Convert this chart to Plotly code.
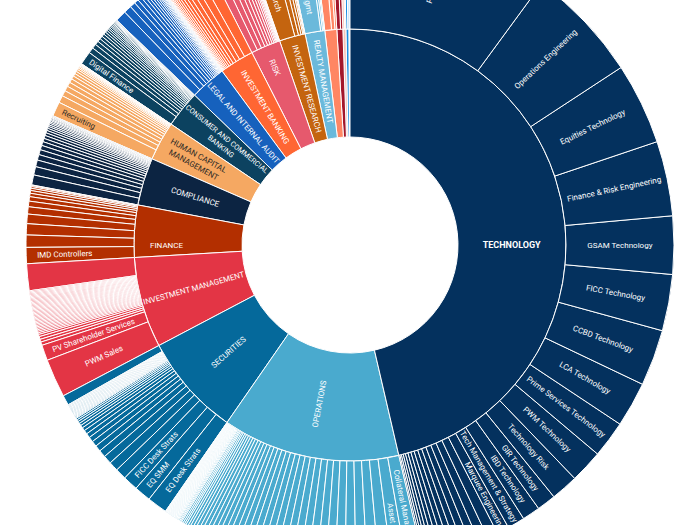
import plotly.graph_objects as go

# ---------------- data (clockwise order from 12 o'clock) ----------------
DIVISIONS = ["TECHNOLOGY", "OPERATIONS", "SECURITIES", "INVESTMENT MANAGEMENT", "FINANCE",
             "COMPLIANCE", "HUMAN CAPITAL MANAGEMENT", "CONSUMER AND COMMERCIAL BANKING",
             "LEGAL AND INTERNAL AUDIT", "INVESTMENT BANKING", "RISK", "INVESTMENT RESEARCH",
             "REALTY MANAGEMENT", "MERCHANT BANKING", "EXECUTIVE OFFICE", "CORPORATE PLANNING",
             "GS BANK", "OTHER"]
DIVISION_TEXT = ["<b>TECHNOLOGY</b>", "OPERATIONS", "SECURITIES", "INVESTMENT MANAGEMENT", "FINANCE",
                 "COMPLIANCE", "HUMAN CAPITAL<br>MANAGEMENT", "CONSUMER AND COMMERCIAL<br>BANKING",
                 "LEGAL AND INTERNAL AUDIT", "INVESTMENT BANKING", "RISK", "INVESTMENT RESEARCH",
                 "REALTY MANAGEMENT", "", "", "", "", ""]
DIVISION_COLORS = ["#04315e", "#4aaace", "#05699b", "#e33545", "#b32f00",
                   "#0c2442", "#f5a862", "#0c4260", "#1661bd", "#ff6633",
                   "#e6596d", "#c4640f", "#6bb9db", "#ff8663", "#a3172b",
                   "#f5c4b8", "#1b8fe3", "#9ad0ef"]

TECH_TEAMS = ["Platform", "Operations Engineering", "Equities Technology",
              "Finance & Risk Engineering", "GSAM Technology", "FICC Technology", "CCBD Technology",
              "LCA Technology", "Prime Services Technology", "PWM Technology", "Technology Risk",
              "GIR Technology", "IBD Technology", "Tech Management & Strategy", "Marquee Engineering"]
TECH_SIZES = [36.2, 20.5, 14.6, 13.4, 10.4, 10.1, 10.1, 8.1, 6.6, 5.9, 4.9, 3.4, 3.2, 3.1, 2.2,
              1.9, 1.7, 1.5, 1.4, 1.2, 1.1, 1.0, 0.9, 0.8, 0.7, 0.6, 0.5, 0.4, 0.3]

OPS_TEAMS = ["Collateral Management", "Asset Servicing"]
OPS_SIZES = [3.0, 2.6, 2.3, 2.1, 2.0, 1.9, 1.8, 1.7, 1.6, 1.6, 1.5, 1.5, 1.4, 1.4, 1.3, 1.3,
             1.2, 1.2, 1.1, 1.1, 1.0, 1.0, 0.9, 0.9, 0.8, 0.8, 0.7, 0.7, 0.6, 0.6, 0.5, 0.5,
             0.4, 0.4, 0.3, 0.3, 0.3, 0.2, 0.2, 0.2,
             0.15, 0.14, 0.13, 0.12, 0.12, 0.11, 0.11, 0.11, 0.1, 0.1, 0.1, 0.1, 0.1, 0.1,
             0.1, 0.1, 0.1, 0.09, 0.09, 0.09, 0.09, 0.09, 0.09, 0.08, 0.08, 0.08, 0.08, 0.08]

SEC_TEAMS = ["EQ Desk Strats", "EQ SMM", "FICC Desk Strats"]
SEC_SIZES = [3.6, 3.0, 2.7, 2.0, 1.7, 1.5, 1.3, 1.1, 1.0, 0.9, 0.8, 0.7, 0.6, 0.5, 0.45, 0.4,
             0.35, 0.3,
             0.16, 0.15, 0.15, 0.15, 0.14, 0.14, 0.14, 0.14, 0.14, 0.14, 0.14, 0.14, 0.14,
             0.14, 0.13, 0.13, 0.13, 0.13, 0.13, 0.13,
             1.8]

IM_TEAMS = ["PWM Sales", "PV Shareholder Services"]
IM_SIZES = [6.9, 2.8, 0.6, 0.5, 0.5, 0.4,
            0.3, 0.28, 0.27, 0.26, 0.26, 0.25, 0.25, 0.24, 0.24, 0.24, 0.23, 0.23, 0.23, 0.23,
            0.23, 0.23, 0.23, 0.23, 0.22, 0.22, 0.22, 0.22, 0.22, 0.22, 0.22, 0.22, 0.22,
            0.22, 0.21, 0.21, 0.21, 0.21, 0.21, 0.21,
            4.8]

FIN_TEAMS = ["IMD Controllers"]
FIN_SIZES = [2.9, 2.2, 2.0, 1.7, 1.3, 1.0, 0.8, 0.6, 0.5, 0.4, 0.3, 0.2, 0.1]

COMP_TEAMS = []
COMP_SIZES = [1.8, 1.5, 1.2, 1.0, 0.9, 0.8, 0.7, 0.6, 0.55, 0.5, 0.45, 0.4, 0.35, 0.3, 0.3,
              0.25, 0.25, 0.2, 0.2, 0.15, 0.15, 0.1, 0.1, 0.05]

HCM_TEAMS = ["Recruiting"]
HCM_SIZES = [2.6, 1.3, 1.0, 0.9, 0.8, 0.7, 0.6, 0.5, 0.45, 0.4, 0.3, 0.25, 0.2, 0.15, 0.1,
             0.1, 0.1, 0.05]

CCB_TEAMS = ["Digital Finance"]
CCB_SIZES = [2.4, 1.0, 0.8, 0.7, 0.6, 0.55, 0.5, 0.45, 0.4, 0.35, 0.3, 0.3, 0.25, 0.25, 0.2,
             0.2, 0.15, 0.15, 0.1, 0.1, 0.1, 0.05]

LEGAL_TEAMS = []
LEGAL_SIZES = [2.0, 1.4, 1.0, 0.8, 0.7, 0.6, 0.5, 0.45, 0.4, 0.35, 0.3, 0.25, 0.2, 0.2, 0.15,
               0.1, 0.1, 0.1, 0.05, 0.05]

IB_TEAMS = []
IB_SIZES = [0.05, 0.1, 0.15, 0.2, 0.25, 0.3, 0.35, 0.4, 0.5, 0.6, 0.7, 0.9, 1.1, 1.5, 2.2]

RISK_TEAMS = []
RISK_SIZES = [1.6, 1.2, 1.0, 0.8, 0.7, 0.6, 0.5, 0.4, 0.3, 0.25, 0.2, 0.15, 0.1, 0.1, 0.1]

IR_TEAMS = ["Equity Research"]
IR_SIZES = [4.2, 1.0, 0.7, 0.5, 0.3, 0.2, 0.1]

REALTY_TEAMS = ["Realty Capital Mgmt"]
REALTY_SIZES = [4.2, 0.5, 0.35, 0.25]

MB_SIZES = [1.8, 0.9, 0.5]
EO_SIZES = [1.0, 0.6]
CP_SIZES = [0.5, 0.3]
GSB_SIZES = [0.5, 0.3]
OTH_SIZES = [0.3]

CHILDREN = [(TECH_TEAMS, TECH_SIZES), (OPS_TEAMS, OPS_SIZES), (SEC_TEAMS, SEC_SIZES),
            (IM_TEAMS, IM_SIZES), (FIN_TEAMS, FIN_SIZES), (COMP_TEAMS, COMP_SIZES),
            (HCM_TEAMS, HCM_SIZES), (CCB_TEAMS, CCB_SIZES), (LEGAL_TEAMS, LEGAL_SIZES),
            (IB_TEAMS, IB_SIZES), (RISK_TEAMS, RISK_SIZES), (IR_TEAMS, IR_SIZES),
            (REALTY_TEAMS, REALTY_SIZES), ([], MB_SIZES), ([], EO_SIZES), ([], CP_SIZES),
            ([], GSB_SIZES), ([], OTH_SIZES)]

# ---------------- build hierarchy ----------------
# Plotly lays slices counter-clockwise, so feed everything reversed and start at 12 o'clock.
ids, labels, parents, values, colors, texts, tcolors, tsizes = [], [], [], [], [], [], [], []

def add(i, l, p, v, c, t, tc, ts):
    ids.append(i); labels.append(l); parents.append(p); values.append(v)
    colors.append(c); texts.append(t); tcolors.append(tc); tsizes.append(ts)

add("root", "", "", 0, "white", "", "white", 8)
order = list(range(len(DIVISIONS)))[::-1]
for k in order:
    dark = DIVISIONS[k] == "HUMAN CAPITAL MANAGEMENT"
    tc = "#2e2a26" if dark else "white"
    add(DIVISIONS[k], DIVISIONS[k], "root", 0, DIVISION_COLORS[k], DIVISION_TEXT[k], tc,
        9 if k == 0 else 8)
for k in order:
    dark = DIVISIONS[k] == "HUMAN CAPITAL MANAGEMENT"
    tc = "#2e2a26" if dark else "white"
    names, sizes = CHILDREN[k]
    for j in range(len(sizes) - 1, -1, -1):
        name = names[j] if j < len(names) else ""
        add(f"{DIVISIONS[k]}/{j}", name, DIVISIONS[k], sizes[j], DIVISION_COLORS[k], name, tc, 8)

fig = go.Figure(go.Sunburst(
    ids=ids, labels=labels, parents=parents, values=values,
    branchvalues="remainder", sort=False, rotation=90,
    text=texts, textinfo="text",
    insidetextorientation="radial",
    insidetextfont=dict(family="Roboto", size=tsizes, color=tcolors),
    marker=dict(colors=colors, line=dict(color="white", width=1)),
    leaf=dict(opacity=1),
    hoverinfo="label+value",
))
fig.update_layout(width=700, height=648, margin=dict(l=0, r=0, t=0, b=0),
                  paper_bgcolor="white", showlegend=False)

post = ("var gd=document.getElementById('{plot_id}');"
        "gd.style.position='relative';gd.style.top='-79px';"
        "document.documentElement.style.overflow='hidden';"
        "document.body.style.overflow='hidden';")
fig.write_html("out.html", post_script=post)
